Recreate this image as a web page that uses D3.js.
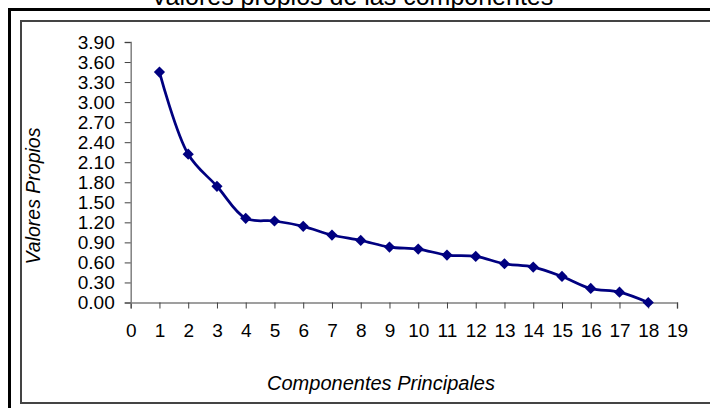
<!DOCTYPE html>
<html><head><meta charset="utf-8">
<script src="https://cdn.jsdelivr.net/npm/d3@7"></script>
<style>body{margin:0;background:#fff;}svg{display:block;}</style>
</head><body>
<svg id="c" width="710" height="408"></svg>
<script>
const components = [1,2,3,4,5,6,7,8,9,10,11,12,13,14,15,16,17,18];
const eigenvalues = [3.45,2.22,1.74,1.26,1.22,1.14,1.01,0.93,0.83,0.80,0.71,0.69,0.58,0.53,0.39,0.21,0.155,0.0];
const yTicks = [0,0.3,0.6,0.9,1.2,1.5,1.8,2.1,2.4,2.7,3.0,3.3,3.6,3.9];
const xTicks = d3.range(0,20);
const title = "Valores propios de las componentes";
const xTitle = "Componentes Principales";
const yTitle = "Valores Propios";

const svg = d3.select("#c");
const font = "'Liberation Sans', Arial, sans-serif";

// frames
svg.append("rect").attr("x",9.5).attr("y",9.5).attr("width",720).attr("height",420)
  .attr("fill","none").attr("stroke","#000").attr("stroke-width",3);
svg.append("rect").attr("x",21).attr("y",21).attr("width",720).attr("height",382)
  .attr("fill","none").attr("stroke","#444").attr("stroke-width",2);

const x = d3.scaleLinear().domain([0,19]).range([130.7,677]);
const y = d3.scaleLinear().domain([0,3.9]).range([302.5,42]);

const xAxis = svg.append("g").attr("transform",`translate(0,${y(0)})`)
  .call(d3.axisBottom(x).tickValues(xTicks).tickFormat(d3.format("d")).tickSize(6).tickPadding(15));
const yAxis = svg.append("g").attr("transform",`translate(${x(0)},0)`)
  .call(d3.axisLeft(y).tickValues(yTicks).tickFormat(d3.format(".2f")).tickSize(6).tickPadding(10));
[xAxis,yAxis].forEach(g=>{
  g.select(".domain").attr("stroke","#808080").attr("stroke-width",1.5);
  g.selectAll(".tick line").attr("stroke","#404040").attr("stroke-width",1);
  g.selectAll(".tick text").attr("font-family",font).attr("font-size",19).attr("fill","#000");
});

const line = d3.line().x((d,i)=>x(components[i])).y(d=>y(d)).curve(d3.curveCatmullRom.alpha(0.5));
svg.append("path").datum(eigenvalues).attr("d",line).attr("fill","none")
  .attr("stroke","#000080").attr("stroke-width",2.75);

const sym = d3.symbol().type(d3.symbolDiamond2).size(80);
svg.selectAll(".pt").data(eigenvalues).join("path").attr("class","pt")
  .attr("transform",(d,i)=>`translate(${x(components[i])},${y(d)})`)
  .attr("d",sym).attr("fill","#000080");

svg.append("text").attr("x",352).attr("y",5).attr("text-anchor","middle")
  .attr("font-family",font).attr("font-size",25).text(title);
svg.append("text").attr("x",381).attr("y",390).attr("text-anchor","middle")
  .attr("font-family",font).attr("font-size",20).attr("font-style","italic").text(xTitle);
svg.append("text").attr("transform","translate(40,196) rotate(-90)").attr("text-anchor","middle")
  .attr("font-family",font).attr("font-size",19.5).attr("font-style","italic").text(yTitle);
</script>
</body></html>
